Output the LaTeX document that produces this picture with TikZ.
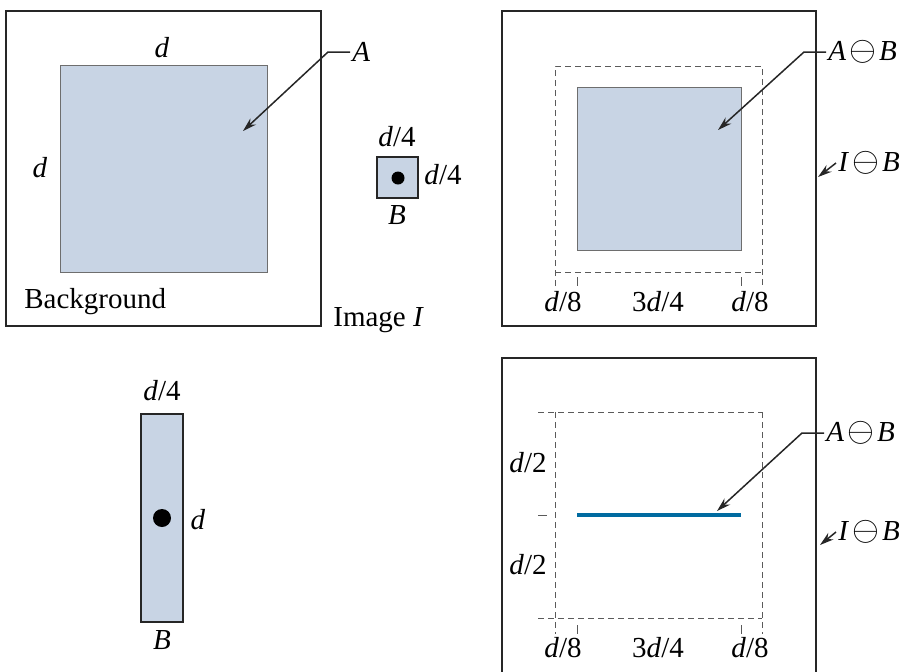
\documentclass[tikz,border=0pt]{standalone}
\usepackage{graphicx}
\usepackage{fontspec}
\setmainfont{Liberation Serif}
\usetikzlibrary{arrows.meta, positioning}
\definecolor{setFill}  {RGB}{200, 212, 228}
\definecolor{setEdge}  {RGB}{110, 110, 110}
\definecolor{lineBlue} {RGB}{  0, 107, 160}
\definecolor{dashGray} {RGB}{ 90,  90,  90}
\tikzset{
  frame/.style  = {draw=black!85, line width=1.2pt},
  seta/.style   = {fill=setFill, draw=setEdge, line width=0.45pt},
  sele/.style   = {fill=setFill, draw=black!85, line width=1.1pt},
  guide/.style  = {draw=dashGray, line width=0.4pt, dash pattern=on 3pt off 2pt},
  tick/.style   = {draw=dashGray, line width=0.4pt},
  lbl/.style    = {font=\fontsize{14.5}{17}\selectfont, inner sep=1pt},
  lead/.style   = {draw=black!85, line width=0.75pt, -{Stealth[length=7pt,width=4.2pt]}},
  origin/.style = {fill=black, circle, inner sep=0pt, minimum size=#1},
}
\newcommand{\ero}[2]{\textit{#1}\kern1.5pt\raisebox{-0.2pt}{\scalebox{1.2}{$\ominus$}}\kern1.5pt\textit{#2}}

\begin{document}
\begin{tikzpicture}[x=0.5pt, y=-0.5pt]
\useasboundingbox (0,0) rectangle (904,671);

% ---- Image I with set A -----------------------------------------------------
\draw[frame] (6,11) rectangle (321,326);
\draw[seta]  (60,65) rectangle (267,272);
\node[lbl] (dtop)  at (162,48)  {\textit{d}};
\node[lbl] (dleft) at (40,168)  {\textit{d}};
\node[lbl, anchor=west] (bg)   at (22,302) {Background};
\node[lbl, anchor=west] (imgI) at (331,320) {Image \textit{I}};
\node[lbl, anchor=west] (labA) at (350,52) {\textit{A}};
\coordinate (tipA) at (243,131);
\draw[lead] (labA.west) -- ++(-22,0) -- (tipA);

% ---- Small structuring element B --------------------------------------------
\draw[sele] (377,157) rectangle (418,198);
\node[origin=6.5pt] (oB) at (398,178) {};
\node[lbl] (bw)  at (397,137) {\textit{d}/4};
\node[lbl] (bh)  at (443,175) {\textit{d}/4};
\node[lbl] (bnm) at (397,215) {\textit{B}};

% ---- Tall structuring element B ---------------------------------------------
\draw[sele] (141,414) rectangle (183,622);
\node[origin=9pt] (oT) at (162,518) {};
\node[lbl] (tw)  at (162,391) {\textit{d}/4};
\node[lbl] (th)  at (198,520) {\textit{d}};
\node[lbl] (tnm) at (162,640) {\textit{B}};

% ---- Erosion by the small B -------------------------------------------------
\draw[frame] (502,11) rectangle (816,326);
\draw[guide] (555,286) -- (555,66) -- (762,66) -- (762,286);
\draw[guide] (555,272) -- (762,272);
\draw[seta]  (577,87) rectangle (741,250);
\draw[tick]  (577,277) -- (577,286);
\draw[tick]  (741,277) -- (741,286);
\node[lbl] (r1) at (563,302) {\textit{d}/8};
\node[lbl] (r2) at (658,302) {3\textit{d}/4};
\node[lbl] (r3) at (750,302) {\textit{d}/8};
\node[lbl, anchor=west] (labAB) at (826,52)  {\ero{A}{B}};
\node[lbl, anchor=west] (labIB) at (836,163) {\ero{I}{B}};
\coordinate (tipAB) at (718,130);
\coordinate (tipIB) at (818,177);
\draw[lead] (labAB.west) -- ++(-22,0) -- (tipAB);
\draw[lead] (labIB.west) -- (tipIB);

% ---- Erosion by the tall B --------------------------------------------------
\draw[frame] (502,680) -- (502,358) -- (816,358) -- (816,680);
\draw[guide] (538,412) -- (762,412);
\draw[guide] (538,618) -- (762,618);
\draw[guide] (555,412) -- (555,634);
\draw[guide] (762,412) -- (762,634);
\draw[tick]  (538,515) -- (547,515);
\draw[lineBlue, line width=2pt] (577,515) -- (741,515);
\draw[tick]  (577,625) -- (577,634);
\draw[tick]  (741,625) -- (741,634);
\node[lbl] (h1) at (528,463) {\textit{d}/2};
\node[lbl] (h2) at (528,565) {\textit{d}/2};
\node[lbl] (s1) at (563,648) {\textit{d}/8};
\node[lbl] (s2) at (658,648) {3\textit{d}/4};
\node[lbl] (s3) at (750,648) {\textit{d}/8};
\node[lbl, anchor=west] (labAB2) at (824,433) {\ero{A}{B}};
\node[lbl, anchor=west] (labIB2) at (836,532) {\ero{I}{B}};
\coordinate (tipAB2) at (717,511);
\coordinate (tipIB2) at (820,545);
\draw[lead] (labAB2.west) -- ++(-22,0) -- (tipAB2);
\draw[lead] (labIB2.west) -- (tipIB2);

\end{tikzpicture}
\end{document}
